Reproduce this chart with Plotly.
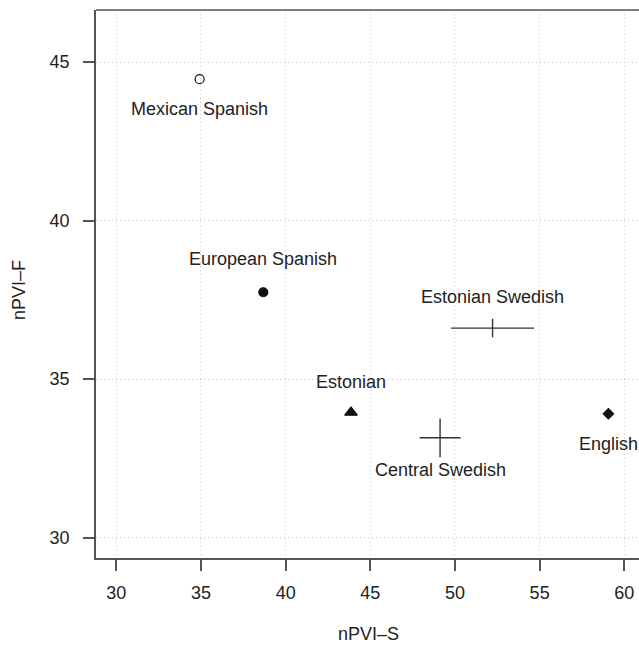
import plotly.graph_objects as go

# Data
languages = ["Mexican Spanish", "European Spanish", "Estonian", "Central Swedish", "Estonian Swedish", "English"]
npvi_s = [34.92, 38.68, 43.86, 49.12, 52.22, 59.06]
npvi_f = [44.46, 37.74, 33.95, 33.15, 36.61, 33.91]
err_s = [0, 0, 0, 1.21, 2.45, 0]
err_f = [0, 0, 0, 0.61, 0.29, 0]
x_ticks = [30, 35, 40, 45, 50, 55, 60]
y_ticks = [30, 35, 40, 45]

# Styles
symbols = ["circle-open", "circle", "triangle-up", None, None, "diamond"]
sizes = [9, 9, 11, 0, 0, 8]
label_shift = [-30, 33, 30, -32, 31, -30]

FONT = "Liberation Sans, Arial, Helvetica, sans-serif"
INK = "#222222"
AX = "#555555"

W, H = 639, 649
L, T = 96, 10
PW, PH = W - L, 548
PX_PER_X = 16.933

fig = go.Figure()

for i, name in enumerate(languages):
    if symbols[i] is not None:
        fig.add_trace(go.Scatter(
            x=[npvi_s[i]], y=[npvi_f[i]], mode="markers",
            marker=dict(symbol=symbols[i], size=sizes[i], color="#111111",
                        line=dict(color="#111111", width=1.2)),
            showlegend=False, hoverinfo="skip"))
    else:
        fig.add_trace(go.Scatter(
            x=[npvi_s[i]], y=[npvi_f[i]], mode="markers",
            marker=dict(size=1, color="rgba(0,0,0,0)"),
            error_x=dict(type="data", array=[err_s[i]], color="#333333", thickness=1.4, width=0),
            error_y=dict(type="data", array=[err_f[i]], color="#333333", thickness=1.4, width=0),
            showlegend=False, hoverinfo="skip"))

annotations = []
for i, name in enumerate(languages):
    annotations.append(dict(x=npvi_s[i], y=npvi_f[i], xref="x", yref="y", text=name,
                            showarrow=False, yshift=label_shift[i], xanchor="center", yanchor="middle",
                            font=dict(family=FONT, size=18, color=INK)))

annotations.append(dict(x=(368 - L) / PW, y=-(634 - (T + PH)) / PH, xref="paper", yref="paper",
                        text="nPVI–S", showarrow=False, xanchor="center", yanchor="middle",
                        font=dict(family=FONT, size=18, color=INK)))
annotations.append(dict(x=-(L - 19) / PW, y=((T + PH) - 290) / PH, xref="paper", yref="paper",
                        text="nPVI–F", showarrow=False, xanchor="center", yanchor="middle", textangle=-90,
                        font=dict(family=FONT, size=18, color=INK)))

fig.update_layout(
    width=W, height=H,
    margin=dict(l=L, r=0, t=T, b=H - T - PH),
    plot_bgcolor="white", paper_bgcolor="white",
    annotations=annotations,
    font=dict(family=FONT, size=18, color=INK),
)
axis_style = dict(showline=True, linecolor=AX, linewidth=1.5, mirror=False,
                  ticks="outside", ticklen=11, tickcolor=AX, tickwidth=1.5,
                  showgrid=True, gridcolor="#c8c8c8", griddash="1px,3px", gridwidth=1,
                  zeroline=False,
                  tickfont=dict(family=FONT, size=18, color=INK))
fig.update_xaxes(range=[28.8, 28.8 + PW / PX_PER_X], tickvals=x_ticks, ticktext=[str(v) for v in x_ticks],
                 ticklabelstandoff=7, **axis_style)
fig.update_yaxes(range=[29.36, 46.64], tickvals=y_ticks, ticktext=[str(v) for v in y_ticks],
                 ticklabelstandoff=10, **axis_style)
# top border of the box
fig.add_shape(type="line", xref="paper", yref="paper", x0=0, x1=1, y0=1, y1=1,
              line=dict(color=AX, width=1.5))

# remove the page's default body margin and scrollbars so the figure fills the window
fig.write_html("out.html",
               config={"displayModeBar": False},
               post_script="document.body.style.margin='0';"
                           "document.documentElement.style.overflow='hidden';"
                           "document.body.style.overflow='hidden';")
